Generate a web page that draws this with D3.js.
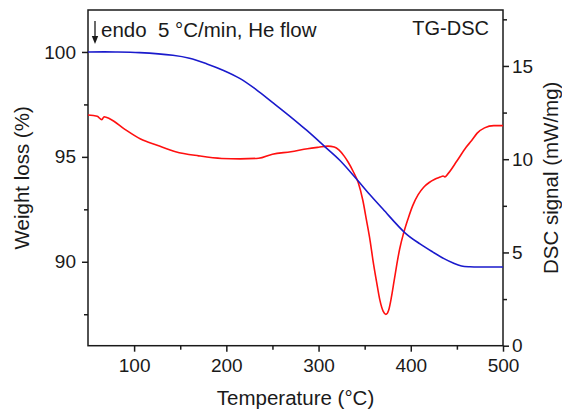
<!DOCTYPE html>
<html><head><meta charset="utf-8">
<script src="https://cdn.jsdelivr.net/npm/d3@7"></script>
<style>body{margin:0;background:#fff}svg{display:block}text{font-family:"Liberation Sans",Arial,sans-serif;fill:#1a1a1a}</style>
</head><body><svg id="c" width="562" height="412"></svg>
<script>
const tgData = [[50,100],[80,100],[106,99.97],[142,99.84],[160,99.7],[179,99.43],[197,99.12],[215,98.73],[232,98.22],[250,97.6],[268,96.97],[287,96.27],[307,95.48],[323,94.84],[343,93.85],[356,93.18],[370,92.5],[394,91.37],[410,90.85],[424,90.46],[436,90.15],[446,89.94],[455,89.8],[464,89.76],[480,89.75],[500,89.75]];
const dscData = [[50,12.37],[60,12.3],[65,12.12],[67.5,12.28],[74,12.16],[90,11.6],[107,11.08],[125,10.75],[145,10.4],[170,10.18],[195,10.04],[215,10.02],[235,10.05],[250,10.27],[270,10.4],[288,10.56],[300,10.64],[310,10.7],[317,10.65],[322,10.5],[328,10.15],[332,9.85],[338,9.3],[343,8.75],[348,7.8],[352,6.72],[356,5.6],[359,4.58],[363,3.4],[366.5,2.44],[370,1.85],[373,1.68],[376,1.9],[379,2.6],[382,3.5],[385,4.4],[388,5.2],[392,6.0],[397,6.8],[402,7.5],[408,8.1],[414,8.5],[420,8.75],[426,8.92],[432,9.04],[435,9.1],[437,9.05],[440,9.2],[450,9.9],[460,10.64],[466,11.0],[472,11.4],[480,11.68],[490,11.8],[500,11.8]];
const xTicks = [100,200,300,400,500], xMinor = [150,250,350,450];
const yLTicks = [90,95,100], yLMinor = [87.5,92.5,97.5];
const yRTicks = [0,5,10,15], yRMinor = [2.5,7.5,12.5,17.5];

const svg = d3.select("#c");
const L=88,R=503,T=10,B=345.7;
const x = d3.scaleLinear().domain([50,500]).range([L,R]);
const yL = d3.scaleLinear().domain([86,102]).range([B,T]);
const yR = d3.scaleLinear().domain([0,18]).range([B,T]);

function axis(gen, tr, ticks, minor, pad){
  const g = svg.append("g").attr("transform",tr).call(gen.tickValues(ticks).tickSize(6).tickPadding(pad).tickSizeOuter(0));
  g.selectAll("text").style("font-size","19px").attr("fill","#1a1a1a");
  g.select(".domain").remove();
  g.selectAll("line").attr("stroke","#1a1a1a").attr("stroke-width",1.5);
  const gm = svg.append("g").attr("transform",tr).call(gen.tickValues(minor).tickSize(4).tickFormat("").tickSizeOuter(0));
  gm.select(".domain").remove();
  gm.selectAll("line").attr("stroke","#1a1a1a").attr("stroke-width",1.5);
  return g;
}
axis(d3.axisBottom(x), `translate(0,${B})`, xTicks, xMinor, 7);
axis(d3.axisLeft(yL), `translate(${L},0)`, yLTicks, yLMinor, 6);
axis(d3.axisRight(yR), `translate(${R},0)`, yRTicks, yRMinor, 3);

svg.append("rect").attr("x",L).attr("y",T).attr("width",R-L).attr("height",B-T).attr("fill","none").attr("stroke","#1a1a1a").attr("stroke-width",1.5);

svg.append("clipPath").attr("id","cp").append("rect").attr("x",L).attr("y",T).attr("width",R-L).attr("height",B-T);
svg.append("path").datum(dscData).attr("clip-path","url(#cp)")
  .attr("d", d3.line().x(d=>x(d[0])).y(d=>yR(d[1])).curve(d3.curveMonotoneX))
  .attr("fill","none").attr("stroke","#ff1010").attr("stroke-width",1.6);
svg.append("path").datum(tgData).attr("clip-path","url(#cp)")
  .attr("d", d3.line().x(d=>x(d[0])).y(d=>yL(d[1])).curve(d3.curveCatmullRom.alpha(0.5)))
  .attr("fill","none").attr("stroke","#1a1acc").attr("stroke-width",1.6);

svg.append("text").attr("x",(L+R)/2).attr("y",405).attr("text-anchor","middle").style("font-size","20.5px").text("Temperature (°C)");
svg.append("text").attr("transform",`translate(29,${(T+B)/2}) rotate(-90)`).attr("text-anchor","middle").style("font-size","20.5px").text("Weight loss (%)");
svg.append("text").attr("transform",`translate(558,${(T+B)/2}) rotate(-90)`).attr("text-anchor","middle").style("font-size","20.5px").text("DSC signal (mW/mg)");

svg.append("line").attr("x1",95).attr("x2",95).attr("y1",21).attr("y2",38).attr("stroke","#1a1a1a").attr("stroke-width",1.3);
svg.append("path").attr("d","M91.8,36 L95,44 L98.2,36 Z").attr("fill","#1a1a1a");
svg.append("text").attr("x",101).attr("y",37).attr("xml:space","preserve").style("white-space","pre").style("font-size","20.5px").text("endo\u00a0 5 °C/min, He flow");
svg.append("text").attr("x",489).attr("y",35).attr("text-anchor","end").style("font-size","20px").text("TG-DSC");
</script></body></html>
